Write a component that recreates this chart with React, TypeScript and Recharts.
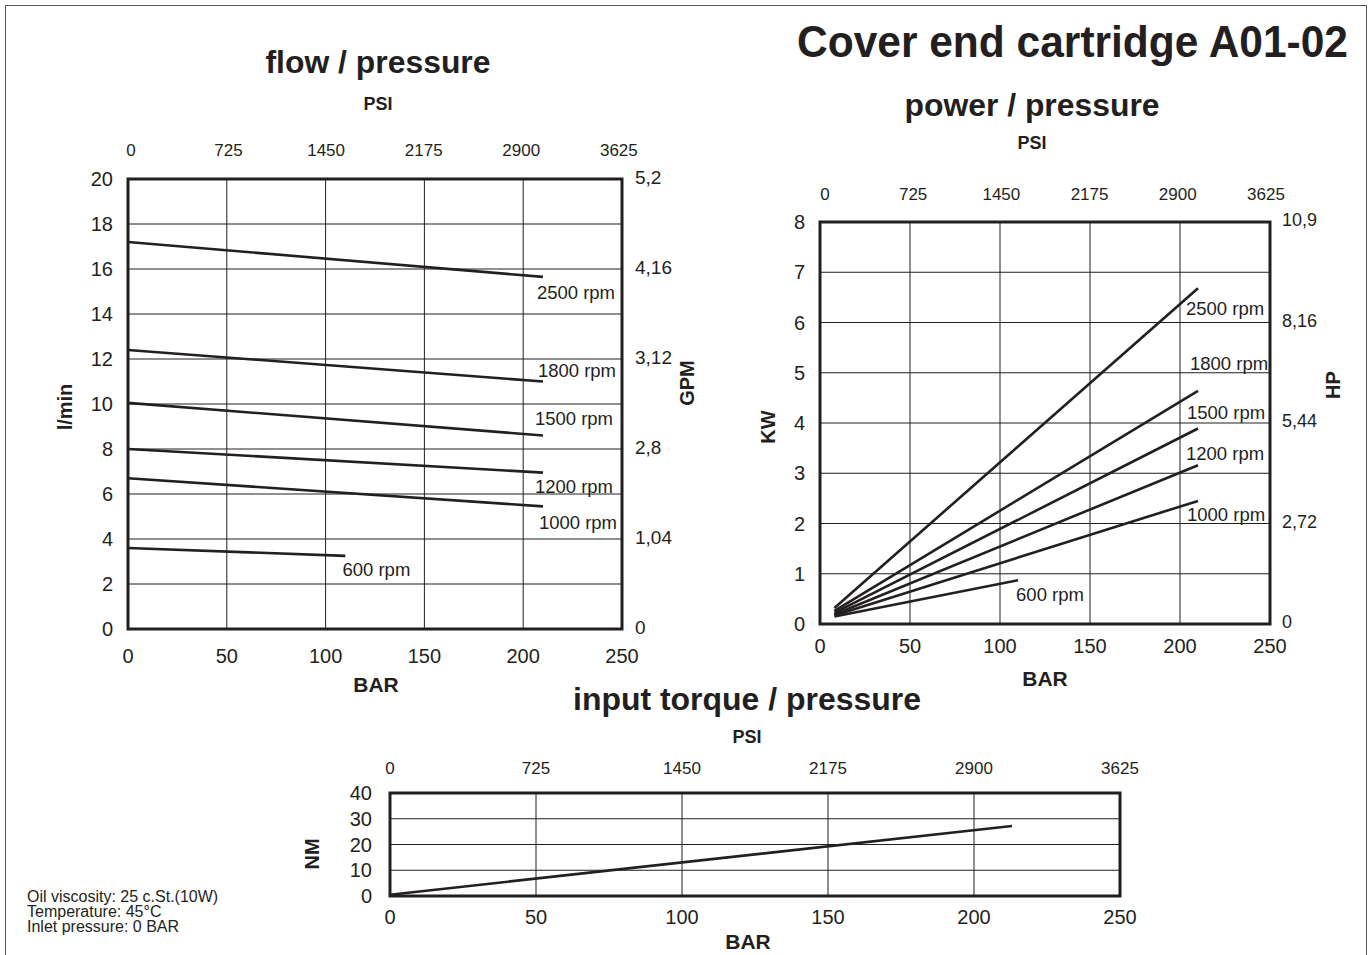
import React from "react";
import { CartesianGrid, Line, LineChart, ReferenceArea, XAxis, YAxis } from "recharts";

const INK = "#231f20";
const FONT = '"Liberation Sans", Arial, Helvetica, sans-serif';

// shared axes
const barTicks = [0, 50, 100, 150, 200, 250];
const psiLabels = ["0", "725", "1450", "2175", "2900", "3625"];
const rpmNames = ["2500 rpm", "1800 rpm", "1500 rpm", "1200 rpm", "1000 rpm", "600 rpm"];

// flow / pressure (l/min vs bar)
const flowBar = [0, 210];
const flowBar600 = [0, 110];
const flow2500 = [17.2, 15.65];
const flow1800 = [12.4, 11.0];
const flow1500 = [10.05, 8.6];
const flow1200 = [8.0, 6.95];
const flow1000 = [6.7, 5.45];
const flow600 = [3.6, 3.25];
const flowTicks = [0, 2, 4, 6, 8, 10, 12, 14, 16, 18, 20];
const gpmTicks = [0, 4, 8, 12, 16, 20];
const gpmLabels = ["0", "1,04", "2,8", "3,12", "4,16", "5,2"];

// power / pressure (kW vs bar)
const powerBar = [8, 210];
const powerBar600 = [8, 110];
const power2500 = [0.32, 6.68];
const power1800 = [0.26, 4.64];
const power1500 = [0.22, 3.89];
const power1200 = [0.19, 3.16];
const power1000 = [0.17, 2.45];
const power600 = [0.15, 0.87];
const kwTicks = [0, 1, 2, 3, 4, 5, 6, 7, 8];
const hpTicks = [0, 2, 4, 6, 8];
const hpLabels = ["0", "2,72", "5,44", "8,16", "10,9"];

// input torque / pressure (Nm vs bar)
const torqueBar = [0, 213];
const torqueNm = [0.5, 27.2];
const nmTicks = [0, 10, 20, 30, 40];

const toPoints = (xs: number[], ys: number[]) => xs.map((p, i) => ({ p, v: ys[i] }));

const flowSeries = [
  toPoints(flowBar, flow2500),
  toPoints(flowBar, flow1800),
  toPoints(flowBar, flow1500),
  toPoints(flowBar, flow1200),
  toPoints(flowBar, flow1000),
  toPoints(flowBar600, flow600),
];
const powerSeries = [
  toPoints(powerBar, power2500),
  toPoints(powerBar, power1800),
  toPoints(powerBar, power1500),
  toPoints(powerBar, power1200),
  toPoints(powerBar, power1000),
  toPoints(powerBar600, power600),
];
const torqueSeries = [toPoints(torqueBar, torqueNm)];

// label offsets from each line's end point (px)
const flowLabelOffsets = [[33, 16], [34, -11], [31, -17], [31, 14], [35, 16], [31, 14]];
const powerLabelOffsets = [[27, 20], [31, -27], [28, -16], [27, -12], [28, 14], [32, 14]];

const endLabel = (name: string, dx: number, dy: number, last: number) => (props: any) => {
  if (props.index !== last) return null;
  return (
    <text
      x={props.x + dx}
      y={props.y + dy}
      textAnchor="middle"
      dominantBaseline="central"
      fontSize={18.5}
      fill={INK}
    >
      {name}
    </text>
  );
};

type PanelProps = {
  left: number;
  top: number;
  width: number;
  height: number;
  margin: { top: number; right: number; bottom: number; left: number };
  yMax: number;
  yTicks: number[];
  psiDomain: number[];
  rightTicks?: number[];
  rightLabels?: string[];
  series: { p: number; v: number }[][];
  names?: string[];
  offsets?: number[][];
  tickFont: { top: number; bottom: number; left: number; right: number };
  tickGap: { top: number; bottom: number; left: number; right: number };
};

function Panel(props: PanelProps) {
  const { left, top, width, height, margin, yMax, yTicks, psiDomain, rightTicks, rightLabels, series, names, offsets, tickFont, tickGap } = props;
  const hasRight = !!(rightTicks && rightLabels);
  return (
    <div style={{ position: "absolute", left, top, width, height }}>
      <LineChart width={width} height={height} margin={margin}>
        <CartesianGrid stroke={INK} strokeWidth={1} />
        <XAxis
          dataKey="p"
          type="number"
          domain={[0, 250]}
          ticks={barTicks}
          interval={0}
          height={40}
          axisLine={false}
          tickLine={false}
          tickSize={0}
          tickMargin={tickGap.bottom}
          tick={{ fill: INK, fontSize: tickFont.bottom }}
        />
        <XAxis
          xAxisId="psi"
          dataKey="p"
          orientation="top"
          type="number"
          domain={psiDomain}
          allowDataOverflow
          ticks={barTicks}
          interval={0}
          height={39}
          axisLine={false}
          tickLine={false}
          tickSize={0}
          tickMargin={tickGap.top}
          tickFormatter={(v: number) => psiLabels[barTicks.indexOf(v)]}
          tick={{ fill: INK, fontSize: tickFont.top }}
        />
        <YAxis
          type="number"
          domain={[0, yMax]}
          ticks={yTicks}
          interval={0}
          width={60}
          axisLine={false}
          tickLine={false}
          tickSize={0}
          tickMargin={tickGap.left}
          tick={{ fill: INK, fontSize: tickFont.left }}
        />
        {hasRight && (
          <YAxis
            yAxisId="right"
            orientation="right"
            type="number"
            domain={[0, yMax]}
            ticks={rightTicks}
            interval={0}
            width={60}
            axisLine={false}
            tickLine={false}
            tickSize={0}
            tickMargin={tickGap.right}
            tickFormatter={(v: number) => rightLabels![rightTicks!.indexOf(v)]}
            tick={{ fill: INK, fontSize: tickFont.right, dy: -2 }}
          />
        )}
        <ReferenceArea x1={0} x2={250} y1={0} y2={yMax} fill="none" fillOpacity={0} stroke={INK} strokeWidth={3} />
        {/* invisible twin of the first curve so the PSI / secondary axes get drawn */}
        <Line
          data={series[0]}
          dataKey="v"
          xAxisId="psi"
          yAxisId={hasRight ? "right" : 0}
          stroke="none"
          dot={false}
          activeDot={false}
          isAnimationActive={false}
        />
        {series.map((data, i) => (
          <Line
            key={i}
            data={data}
            dataKey="v"
            type="linear"
            stroke={INK}
            strokeWidth={2.6}
            dot={false}
            activeDot={false}
            isAnimationActive={false}
            label={names && offsets ? endLabel(names[i], offsets[i][0], offsets[i][1], data.length - 1) : false}
          />
        ))}
      </LineChart>
    </div>
  );
}

function Title({ x, y, size, text, len, anchor = "middle" }: any) {
  return (
    <text
      x={x}
      y={y}
      fontSize={size}
      fontWeight="bold"
      textAnchor={anchor}
      fill={INK}
      textLength={len}
      lengthAdjust={len ? "spacingAndGlyphs" : undefined}
    >
      {text}
    </text>
  );
}

function VLabel({ x, y, text }: any) {
  return (
    <text
      x={x}
      y={y}
      fontSize={20}
      fontWeight="bold"
      textAnchor="middle"
      dominantBaseline="central"
      fill={INK}
      transform={`rotate(-90 ${x} ${y})`}
    >
      {text}
    </text>
  );
}

export default function App() {
  return (
    <div
      style={{
        position: "absolute",
        left: 0,
        top: 0,
        width: 1370,
        height: 955,
        background: "#fff",
        overflow: "hidden",
        fontFamily: FONT,
        color: INK,
      }}
    >
      <div
        style={{
          position: "absolute",
          left: 5,
          top: 5,
          width: 1362,
          height: 980,
          border: "1.5px solid #555",
          boxSizing: "border-box",
        }}
      />
      <Panel
        left={40}
        top={120}
        width={700}
        height={590}
        margin={{ top: 20, right: 58, bottom: 41, left: 28 }}
        yMax={20}
        yTicks={flowTicks}
        psiDomain={[-1.5, 251.6]}
        rightTicks={gpmTicks}
        rightLabels={gpmLabels}
        series={flowSeries}
        names={rpmNames}
        offsets={flowLabelOffsets}
        tickFont={{ top: 17, bottom: 20, left: 20, right: 19 }}
        tickGap={{ top: 23, bottom: 20, left: 15, right: 13 }}
      />
      <Panel
        left={740}
        top={170}
        width={620}
        height={540}
        margin={{ top: 13, right: 30, bottom: 46, left: 20 }}
        yMax={8}
        yTicks={kwTicks}
        psiDomain={[-2.8, 252.3]}
        rightTicks={hpTicks}
        rightLabels={hpLabels}
        series={powerSeries}
        names={rpmNames}
        offsets={powerLabelOffsets}
        tickFont={{ top: 17, bottom: 20, left: 20, right: 18 }}
        tickGap={{ top: 22, bottom: 15, left: 15, right: 12 }}
      />
      <Panel
        left={300}
        top={740}
        width={870}
        height={215}
        margin={{ top: 14, right: 50, bottom: 19, left: 30 }}
        yMax={40}
        yTicks={nmTicks}
        psiDomain={[0, 250]}
        series={torqueSeries}
        tickFont={{ top: 17, bottom: 20, left: 20, right: 20 }}
        tickGap={{ top: 19, bottom: 14, left: 18, right: 0 }}
      />
      <svg
        width={1370}
        height={955}
        style={{ position: "absolute", left: 0, top: 0, pointerEvents: "none", fontFamily: FONT }}
      >
        <Title x={1348} y={57} size={44} text="Cover end cartridge A01-02" len={551} anchor="end" />
        <Title x={378} y={73} size={31} text="flow / pressure" len={225} />
        <Title x={1032} y={116} size={31} text="power / pressure" len={255} />
        <Title x={747} y={710} size={31} text="input torque / pressure" len={348} />
        <Title x={378} y={110} size={18} text="PSI" />
        <Title x={1032} y={149} size={18} text="PSI" />
        <Title x={747} y={743} size={18} text="PSI" />
        <Title x={376} y={692} size={21} text="BAR" />
        <Title x={1045} y={686} size={21} text="BAR" />
        <Title x={748} y={949} size={21} text="BAR" />
        <VLabel x={65} y={407} text="l/min" />
        <VLabel x={687} y={383} text="GPM" />
        <VLabel x={768} y={427} text="KW" />
        <VLabel x={1333} y={385} text="HP" />
        <VLabel x={312} y={854} text="NM" />
        <text x={27} y={902} fontSize={16} fill={INK}>Oil viscosity: 25 c.St.(10W)</text>
        <text x={27} y={917} fontSize={16} fill={INK}>Temperature: 45°C</text>
        <text x={27} y={932} fontSize={16} fill={INK}>Inlet pressure: 0 BAR</text>
      </svg>
    </div>
  );
}
